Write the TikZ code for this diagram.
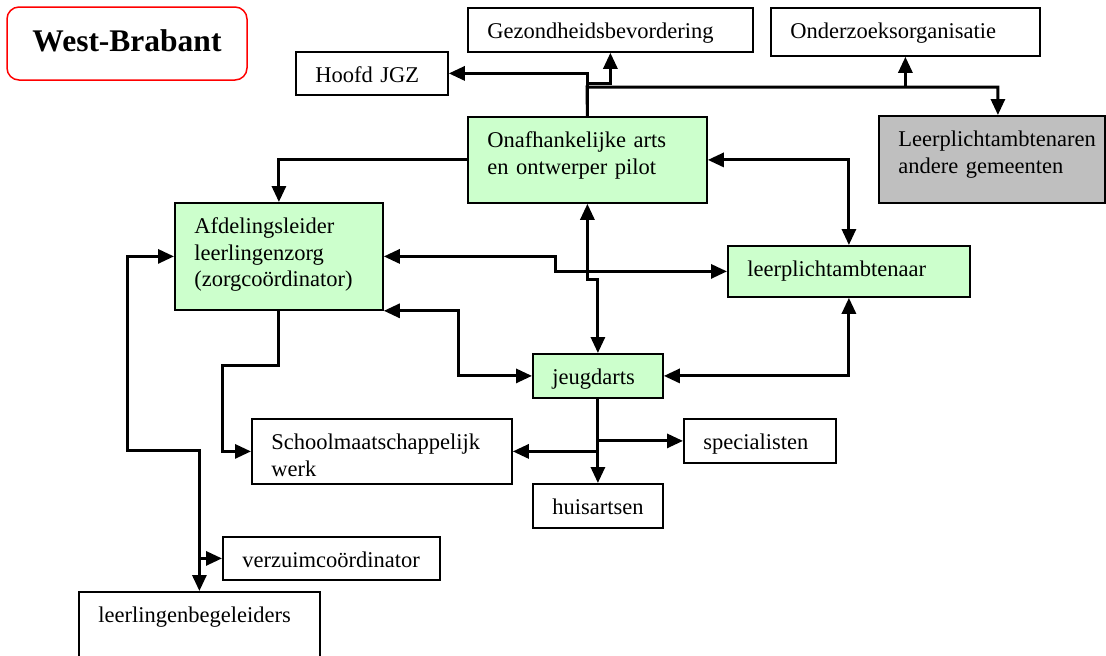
\documentclass[tikz,border=0pt]{standalone}
\usepackage{fontspec}
\setmainfont{Liberation Serif}
\usetikzlibrary{arrows.meta}
\definecolor{lightgreen}{rgb}{0.8,1,0.8}
\definecolor{boxgray}{rgb}{0.75,0.75,0.75}
\hyphenpenalty=10000

\begin{document}
\begin{tikzpicture}[x=0.5pt, y=-0.5pt,
    box/.style={draw, line width=0.9pt, anchor=north west, align=left, inner xsep=9.75pt, inner ysep=0pt, text height=15.5pt, font=\fontsize{11.25}{13.25}\selectfont},
    arr/.style={line width=1.5pt, -{Triangle[length=8pt,width=7pt]}},
    darr/.style={line width=1.5pt, {Triangle[length=8pt,width=7pt]}-{Triangle[length=8pt,width=7pt]}}]
                \useasboundingbox (0,0) rectangle (1106,655);
                \clip (0,0) rectangle (1106,655);
                % title
                \node[draw=red, line width=0.75pt, rounded corners=6pt, minimum width=120pt, minimum height=36.5pt, text height=10.9pt, text depth=3.3pt, font=\fontsize{15.75}{18}\selectfont\bfseries] (wb) at (127,43.5) {West-Brabant};
                % boxes
                \node[box, text width=56.5pt, text depth=6pt] (hoofd) at (295,51) {Hoofd JGZ};
                \node[box, text width=123pt, text depth=6.5pt] (gezond) at (467,7) {Gezondheidsbevordering};
                \node[box, text width=115pt, text depth=8.5pt] (onderz) at (770,7) {Onderzoeksorganisatie};
                \node[box, fill=lightgreen, text width=100pt, text depth=27.5pt] (onafh) at (467,116) {Onafhankelijke arts\\en ontwerper pilot};
                \node[box, fill=boxgray, text width=93.5pt, text depth=28pt] (lpandere) at (878,115) {Leerplichtambtenaren\\andere gemeenten};
                \node[box, fill=lightgreen, text width=84.5pt, text depth=38pt] (afd) at (174,202) {Afdelingsleider\\leerlingenzorg\\(zorgcoördinator)};
                \node[box, fill=lightgreen, text width=101.5pt, text depth=10pt] (lp) at (727,245) {leerplichtambtenaar};
                \node[box, fill=lightgreen, text width=45.5pt, text depth=6.5pt] (jeugd) at (532,353) {jeugdarts};
                \node[box, text width=110.5pt, text depth=17pt] (school) at (251,418) {Schoolmaatschappelijk\\werk};
                \node[box, text width=56.5pt, text depth=6.5pt] (spec) at (683,418) {specialisten};
                \node[box, text width=45.5pt, text depth=6.5pt] (huis) at (532,483) {huisartsen};
                \node[box, text width=89pt, text depth=6pt] (verz) at (222,536) {verzuimcoördinator};
                \node[box, text width=101pt, text depth=50pt] (llb) at (78,591) {leerlingenbegeleiders};
                % arrows at the top
                \coordinate (bus) at (587,87);
                \draw[arr] (onafh.north) |- (hoofd.east);
                \draw[arr] (onafh.north) -- ++(0,-33) -| (gezond.south);
                \draw[arr] (onafh.north) -- (bus) -| ([xshift=3pt]lpandere.north);
                \draw[arr] (bus -| onderz.south) -- (onderz.south);
                % arrows in the middle
                \draw[arr] (onafh.west) -| (afd.north);
                \draw[darr] (onafh.east) -| (lp.north);
                \draw[darr] (onafh.south) -- ++(0,76) -| (jeugd.north);
                \draw[darr] (afd.east) -- ++(172,0) |- (lp.west);
                \draw[darr] (afd.south east) -- ++(75,0) |- (jeugd.west);
                \draw[darr] (lp.south) |- (jeugd.east);
                % arrows at the bottom
                \draw[arr] (afd.south) -- ++(0,55) -- ++(-56,0) |- (school.west);
                \draw[arr] (jeugd.south) -- (huis.north);
                \draw[arr] (jeugd.south |- spec.west) -- (spec.west);
                \draw[arr] (jeugd.south |- school.east) -- (school.east);
                \draw[darr] (afd.west) -| ++(-47,194) -| (llb.north);
                \draw[arr] (llb.north |- verz.west) -- (verz.west);
            \end{tikzpicture}
\end{document}
